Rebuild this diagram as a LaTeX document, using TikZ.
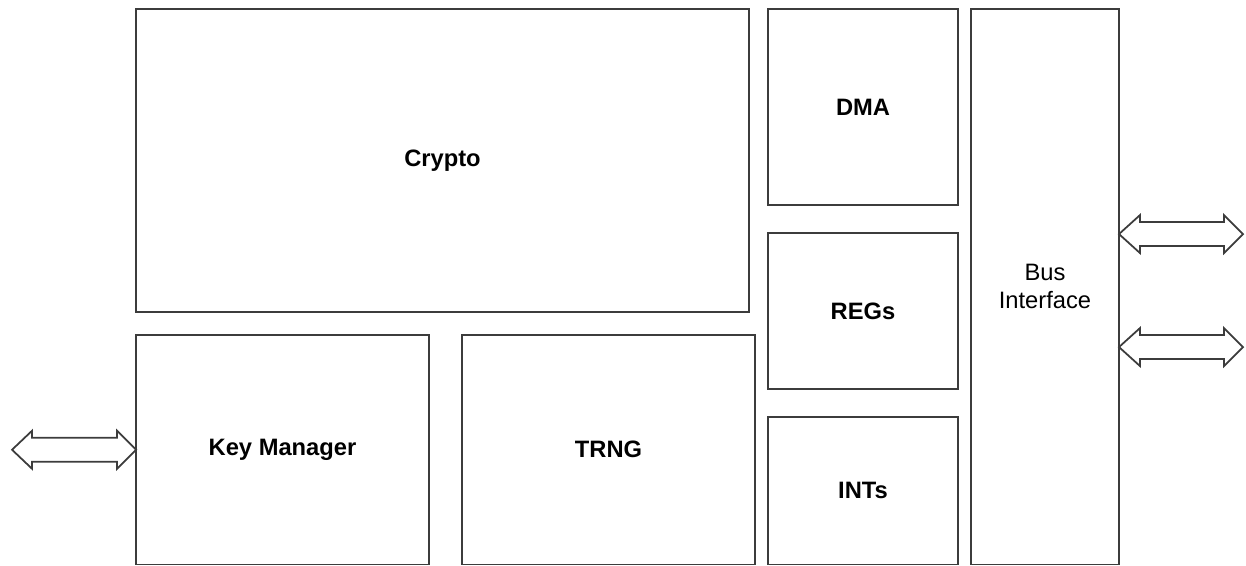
\documentclass[tikz,border=0pt]{standalone}
\usepackage{fontspec}
\setmainfont{Liberation Sans}
\usetikzlibrary{calc}
\definecolor{edge}{HTML}{3C3C3C}
\begin{document}
\begin{tikzpicture}[x=0.02cm,y=-0.02cm,
  box/.style={draw=edge,line width=1pt,rectangle,inner sep=0pt,outer sep=0pt,
    font=\fontsize{13.5}{16}\selectfont\bfseries,text=black,align=center},
  busbox/.style={box,font=\fontsize{13.5}{16}\selectfont},
  arr/.style={draw=edge,line width=1pt,line join=miter,fill=white}]
\useasboundingbox (0,0) rectangle (1246,565);
\node[box,minimum width=12.26cm,minimum height=6.06cm] (crypto) at (442.5,160.5) {Crypto};
\node[box,minimum width=5.86cm,minimum height=4.59cm] (km) at (282.5,449.75) {Key Manager};
\node[box,minimum width=5.86cm,minimum height=4.59cm] (trng) at (608.5,449.75) {TRNG};
\node[box,minimum width=3.8cm,minimum height=3.92cm] (dma) at (863,107) {DMA};
\node[box,minimum width=3.8cm,minimum height=3.12cm] (regs) at (863,311) {REGs};
\node[box,minimum width=3.8cm,minimum height=2.95cm] (ints) at (863,490.75) {INTs};
\node[busbox,minimum width=2.96cm,minimum height=11.11cm] (bus) at (1045,286.75) {Bus\\Interface};
% left double arrow
\draw[arr] (km.west) -- ++(-19,-19) -- ++(0,7) -- ++(-85,0) -- ++(0,-7) -- ++(-20,19)
  -- ++(20,19) -- ++(0,-7) -- ++(85,0) -- ++(0,7) -- cycle;
% right double arrows
\coordinate (p1) at ($(bus.north east)+(0,225)$);
\coordinate (p2) at ($(bus.north east)+(0,338)$);
\foreach \p in {p1,p2}{
\draw[arr] (\p) -- ++(21,-19) -- ++(0,7) -- ++(84,0) -- ++(0,-7) -- ++(19,19)
  -- ++(-19,19) -- ++(0,-7) -- ++(-84,0) -- ++(0,7) -- cycle;
}
\end{tikzpicture}
\end{document}
